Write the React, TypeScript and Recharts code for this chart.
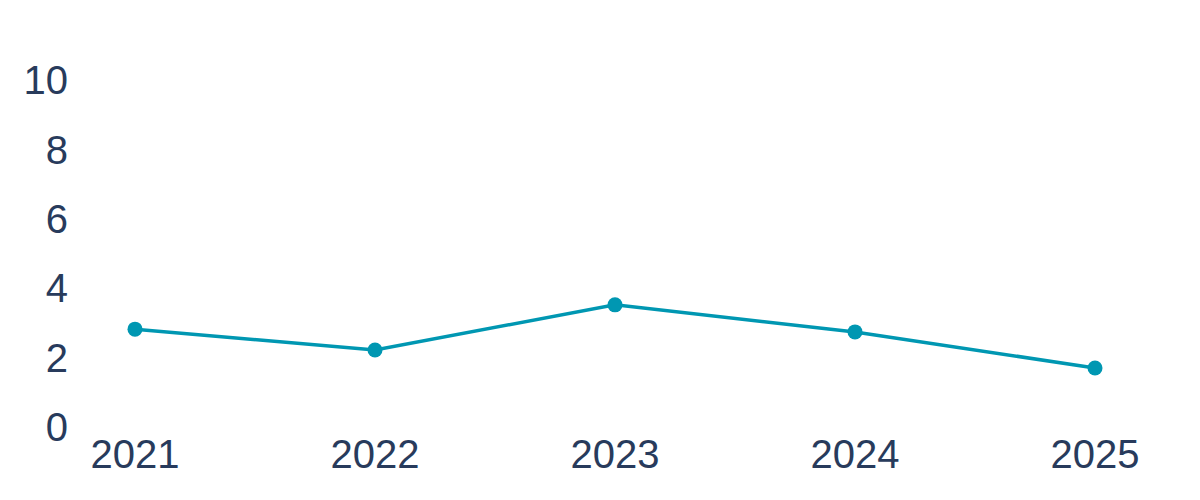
import React from "react";
import { LineChart, Line, XAxis, YAxis } from "recharts";

const years = ["2021", "2022", "2023", "2024", "2025"];
const values = [2.82, 2.22, 3.52, 2.74, 1.7];
const yTicks = [0, 2, 4, 6, 8, 10];

const data = years.map((y, i) => ({ year: y, value: values[i] }));

const textColor = "#283b5c";
const lineColor = "#0097b2";
const font = "'Liberation Sans', Arial, sans-serif";

export default function App() {
  return (
    <div style={{ position: "absolute", left: 0, top: 0, width: 1200, height: 500, background: "#fff" }}>
      <LineChart
        width={1200}
        height={500}
        data={data}
        margin={{ top: 80, right: 105, bottom: 0, left: 0 }}
      >
        <XAxis
          dataKey="year"
          axisLine={false}
          tickLine={false}
          tickSize={0}
          tickMargin={13}
          height={73}
          interval={0}
          tick={{ fill: textColor, fontSize: 40, fontFamily: font }}
        />
        <YAxis
          domain={[0, 10]}
          ticks={yTicks}
          axisLine={false}
          tickLine={false}
          tickSize={0}
          tickMargin={67}
          width={135}
          interval={0}
          tick={{ fill: textColor, fontSize: 40, fontFamily: font }}
        />
        <Line
          dataKey="value"
          stroke={lineColor}
          strokeWidth={3.5}
          dot={{ r: 7.5, fill: lineColor, stroke: lineColor, strokeWidth: 0 }}
          isAnimationActive={false}
          type="linear"
        />
      </LineChart>
    </div>
  );
}
